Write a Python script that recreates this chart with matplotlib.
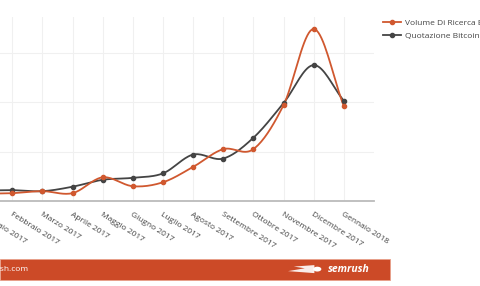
import numpy as np
import matplotlib.pyplot as plt
from matplotlib.lines import Line2D
from matplotlib.patches import Rectangle, Circle, Polygon

plt.rcParams['font.family'] = ['Open Sans', 'DejaVu Sans']

# months shown on the x axis
mesi = ['Gennaio 2017', 'Febbraio 2017', 'Marzo 2017', 'Aprile 2017', 'Maggio 2017',
        'Giugno 2017', 'Luglio 2017', 'Agosto 2017', 'Settembre 2017', 'Ottobre 2017',
        'Novembre 2017', 'Dicembre 2017', 'Gennaio 2018']

# values (one grid step = 1)
volume_ricerca = [0.15, 0.16, 0.20, 0.16, 0.48, 0.30, 0.38, 0.69, 1.05, 1.05, 1.94, 3.48, 1.92]
quotazione = [0.21, 0.22, 0.20, 0.29, 0.43, 0.47, 0.56, 0.94, 0.86, 1.28, 1.98, 2.75, 2.03]

nomi = ['Volume Di Ricerca Bitcoin', 'Quotazione Bitcoin']
colori = ['#d0582f', '#444444']


def spline(x, y, n=20):
    # catmull-rom curve through the points, like the original's smoothed lines
    x = np.asarray(x, float)
    y = np.asarray(y, float)
    px = np.concatenate([[2 * x[0] - x[1]], x, [2 * x[-1] - x[-2]]])
    py = np.concatenate([[2 * y[0] - y[1]], y, [2 * y[-1] - y[-2]]])
    t = np.linspace(0, 1, n)
    xs, ys = [], []
    for i in range(1, len(px) - 2):
        for p, out in ((px, xs), (py, ys)):
            p0, p1, p2, p3 = p[i - 1], p[i], p[i + 1], p[i + 2]
            out.extend(0.5 * ((2 * p1) + (-p0 + p2) * t
                              + (2 * p0 - 5 * p1 + 4 * p2 - p3) * t ** 2
                              + (-p0 + 3 * p1 - 3 * p2 + p3) * t ** 3))
    return np.array(xs), np.array(ys)


fig = plt.figure(figsize=(4.8, 2.86), dpi=100)
ax = fig.add_axes([-0.1, 0.297, 0.879, 0.643])

x = np.arange(len(mesi))
for vals, col in zip([quotazione, volume_ricerca], colori[::-1]):
    sx, sy = spline(x, vals)
    ax.plot(sx, sy, color=col, lw=1.3, zorder=3, clip_on=False)
    ax.plot(x, vals, 'o', color=col, ms=3, zorder=4, clip_on=False)

ax.set_xlim(-1, 13)
ax.set_ylim(0, 3.72)
ax.set_xticks(x)
ax.set_xticklabels(mesi, rotation=-32, ha='left', va='top', rotation_mode='anchor',
                   fontsize=6, color='#444444')
ax.set_yticks([0, 1, 2, 3])
ax.tick_params(axis='x', length=0, pad=7)
ax.tick_params(axis='y', length=0, labelleft=False)
ax.grid(True, color='#f0f0f0', lw=0.8)
ax.set_axisbelow(True)
for s in ['top', 'right', 'left']:
    ax.spines[s].set_visible(False)
ax.spines['bottom'].set_color('#bbbbbb')
ax.spines['bottom'].set_linewidth(1.3)

handles = [Line2D([], [], color=c, lw=1.3, marker='o', ms=3) for c in colori]
fig.legend(handles, nomi, loc='upper left', bbox_to_anchor=(0.79, 0.945), frameon=False,
           fontsize=6, handlelength=2.2, handletextpad=0.5, labelspacing=0.6,
           labelcolor='#444444', borderaxespad=0)

# footer bar
fig.patches.append(Rectangle((0, 0.021), 0.8125, 0.073, transform=fig.transFigure,
                             facecolor='#cc4a27', edgecolor='#e8a08a', lw=0.6))
fig.text(0.06, 0.057, 'www.semrush.com', color='white', fontsize=6, ha='right', va='center')
fig.text(0.683, 0.057, 'semrush', color='white', fontsize=7.5, fontweight='bold',
         style='italic', ha='left', va='center')
# little fireball logo
fig.patches.append(Circle((0.661, 0.059), 0.0085, transform=fig.transFigure,
                          facecolor='white', edgecolor='none'))
fig.patches.append(Polygon([(0.60, 0.052), (0.655, 0.045), (0.655, 0.073), (0.612, 0.068),
                            (0.635, 0.062)], closed=True, transform=fig.transFigure,
                           facecolor='white', edgecolor='none', alpha=0.9))

fig.savefig('out.png', dpi=100)
